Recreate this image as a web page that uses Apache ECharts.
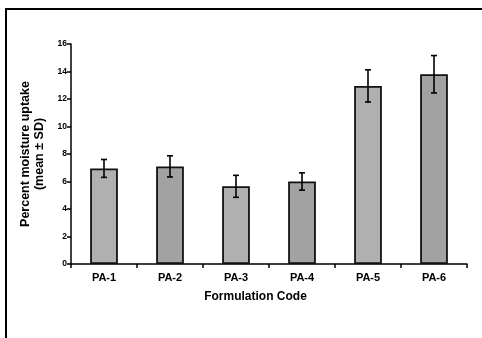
<!DOCTYPE html>
<html>
<head>
<meta charset="utf-8">
<script src="https://cdn.jsdelivr.net/npm/echarts@6/dist/echarts.min.js"></script>
<style>
  html, body { margin: 0; padding: 0; background: #fff; }
  #chart { width: 482px; height: 338px; }
</style>
</head>
<body>
<div id="chart"></div>
<script>
// 配方编号和吸湿率 (mean ± SD)
var categories = ['PA-1', 'PA-2', 'PA-3', 'PA-4', 'PA-5', 'PA-6']
var meanValues = [6.95, 7.1, 5.65, 6.0, 12.95, 13.8]
var sdValues = [0.65, 0.77, 0.8, 0.63, 1.17, 1.36]
var yTicks = { min: 0, max: 16, interval: 2 }

var barColors = ['#b0b0b0', '#a2a2a2']
var font = 'Liberation Sans, Arial, sans-serif'

var errData = meanValues.map(function (v, i) {
  return [i, v - sdValues[i], v + sdValues[i]]
})

var option = {
  animation: false,
  backgroundColor: '#fff',
  grid: {
    left: 71,
    right: 15,
    top: 44,
    bottom: 74
  },
  graphic: [
    // 外框 (top/left only)
    { type: 'line', shape: { x1: 5, y1: 9, x2: 482, y2: 9 }, style: { stroke: '#000', lineWidth: 2 } },
    { type: 'line', shape: { x1: 6, y1: 9, x2: 6, y2: 338 }, style: { stroke: '#000', lineWidth: 2 } }
  ],
  xAxis: {
    type: 'category',
    data: categories,
    name: 'Formulation Code',
    nameLocation: 'middle',
    nameGap: 27,
    nameTextStyle: {
      color: '#000',
      fontFamily: font,
      fontWeight: 'bold',
      fontSize: 12,
      padding: [0, 27, 0, 0]
    },
    axisLine: { lineStyle: { color: '#000', width: 1.5 } },
    axisTick: { show: true, length: 4, lineStyle: { color: '#000', width: 1.5 } },
    axisLabel: {
      color: '#000',
      fontFamily: font,
      fontWeight: 'bold',
      fontSize: 11,
      margin: 8
    }
  },
  yAxis: {
    type: 'value',
    min: yTicks.min,
    max: yTicks.max,
    interval: yTicks.interval,
    name: 'Percent moisture uptake\n(mean ± SD)',
    nameLocation: 'middle',
    nameGap: 22,
    nameRotate: 90,
    nameTextStyle: {
      color: '#000',
      fontFamily: font,
      fontWeight: 'bold',
      fontSize: 12.5,
      lineHeight: 14,
      align: 'center'
    },
    axisLine: { show: true, lineStyle: { color: '#000', width: 1.5 } },
    axisTick: { show: true, length: 4, lineStyle: { color: '#000', width: 1.5 } },
    splitLine: { show: false },
    axisLabel: {
      color: '#000',
      fontFamily: font,
      fontWeight: 'bold',
      fontSize: 8.5,
      margin: 4
    }
  },
  series: [{
    name: 'mean',
    type: 'bar',
    data: meanValues,
    barWidth: '42%',
    itemStyle: {
      borderColor: '#111',
      borderWidth: 1.8,
      color: function (params) {
        return barColors[params.dataIndex % barColors.length]
      }
    }
  }, {
    name: 'SD',
    type: 'custom',
    data: errData,
    z: 10,
    renderItem: function (params, api) {
      var x = api.value(0)
      var lo = api.coord([x, api.value(1)])
      var hi = api.coord([x, api.value(2)])
      var w = 3
      var st = { stroke: '#000', lineWidth: 1.6 }
      return {
        type: 'group',
        children: [
          { type: 'line', shape: { x1: hi[0], y1: hi[1], x2: lo[0], y2: lo[1] }, style: st },
          { type: 'line', shape: { x1: hi[0] - w, y1: hi[1], x2: hi[0] + w, y2: hi[1] }, style: st },
          { type: 'line', shape: { x1: lo[0] - w, y1: lo[1], x2: lo[0] + w, y2: lo[1] }, style: st }
        ]
      }
    }
  }]
}

var myChart = echarts.init(document.getElementById('chart'))
myChart.setOption(option, true)
</script>
</body>
</html>
